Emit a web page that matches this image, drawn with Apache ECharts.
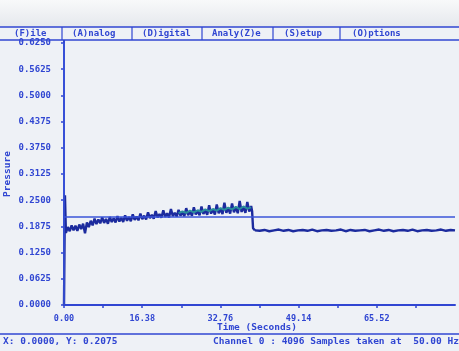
<!DOCTYPE html>
<html>
<head>
<meta charset="utf-8">
<script src="https://cdn.jsdelivr.net/npm/echarts@6/dist/echarts.min.js"></script>
<style>
html,body{margin:0;padding:0;background:#eef1f6;}
#c{width:459px;height:351px;}
</style>
</head>
<body>
<div id="c"></div>
<script>
// ---- data ----
const menuItems = ['(F)ile', '(A)nalog', '(D)igital', 'Analy(Z)e', '(S)etup', '(O)ptions'];
const yTickLabels = ['0.0000','0.0625','0.1250','0.1875','0.2500','0.3125','0.3750','0.4375','0.5000','0.5625','0.6250'];
const xTickLabels = ['0.00','','16.38','','32.76','','49.14','','65.52','',''];
const xTitle = 'Time (Seconds)';
const yTitle = 'Pressure';
const cursorX = 0.0;
const cursorY = 0.2075;
const statusLeft = 'X: 0.0000, Y: 0.2075';
const statusRight = 'Channel 0 : 4096 Samples taken at  50.00 Hz';

// [time s, pressure] rising, noisy part
const riseSegment = [
 [0.0,0.000],[0.2,0.262],[0.4,0.172],[0.8,0.186],[1.2,0.176],[1.6,0.190],[2.0,0.178],[2.4,0.189],
 [2.8,0.177],[3.2,0.192],[3.6,0.181],[4.0,0.194],[4.4,0.171],[4.8,0.197],[5.2,0.186],[5.6,0.201],
 [6.0,0.190],[6.4,0.206],[6.8,0.193],[7.2,0.204],[7.6,0.195],[8.0,0.209],[8.4,0.196],[8.8,0.205],
 [9.2,0.194],[9.6,0.210],[10.0,0.198],[10.4,0.207],[10.8,0.197],[11.2,0.212],[11.6,0.199],[12.0,0.208],
 [12.4,0.198],[12.8,0.214],[13.2,0.201],[13.6,0.210],[14.0,0.200],[14.4,0.216],[14.8,0.203],[15.2,0.211],
 [15.6,0.202],[16.0,0.218],[16.4,0.205],[16.8,0.213],[17.2,0.204],[17.6,0.221],[18.0,0.207],[18.4,0.215],
 [18.8,0.206],[19.2,0.224],[19.6,0.209],[20.0,0.217],[20.4,0.208],[20.8,0.226],[21.2,0.210],[21.6,0.219],
 [22.0,0.209],[22.4,0.229],[22.8,0.212],[23.2,0.220],[23.6,0.211],[24.0,0.227],[24.4,0.213],[24.8,0.222],
 [25.2,0.212],[25.6,0.231],[26.0,0.214],[26.4,0.223],[26.8,0.213],[27.2,0.233],[27.6,0.216],[28.0,0.225],
 [28.4,0.214],[28.8,0.235],[29.2,0.217],[29.6,0.226],[30.0,0.215],[30.4,0.238],[30.8,0.218],[31.2,0.228],
 [31.6,0.216],[32.0,0.240],[32.4,0.219],[32.8,0.229],[33.2,0.217],[33.6,0.244],[34.0,0.220],[34.4,0.231],
 [34.8,0.218],[35.2,0.242],[35.6,0.221],[36.0,0.233],[36.4,0.219],[36.8,0.248],[37.2,0.222],[37.6,0.234],
 [38.0,0.220],[38.4,0.246],[38.8,0.223],[39.2,0.236],[39.4,0.224],[39.6,0.183],[40.0,0.178]
];
// [time s, pressure] flat part after the drop
const plateauSegment = [
 [41,0.177],[42,0.179],[43,0.176],[44,0.178],[45,0.180],[46,0.177],[47,0.179],[48,0.176],[49,0.178],
 [50,0.179],[51,0.177],[52,0.180],[53,0.176],[54,0.178],[55,0.179],[56,0.177],[57,0.178],[58,0.180],
 [59,0.176],[60,0.179],[61,0.177],[62,0.178],[63,0.179],[64,0.176],[65,0.178],[66,0.180],[67,0.177],
 [68,0.179],[69,0.176],[70,0.178],[71,0.179],[72,0.177],[73,0.180],[74,0.176],[75,0.178],[76,0.179],
 [77,0.177],[78,0.178],[79,0.180],[80,0.177],[81,0.179],[81.9,0.178]
];
// teal-coloured core of the trace near the end of the rise
const tealOverlay = [
 [24.0,0.219],[24.8,0.223],[25.6,0.220],[26.4,0.225],[27.2,0.221],[28.0,0.226],[28.8,0.222],[29.6,0.228],
 [30.4,0.224],[31.2,0.229],[32.0,0.225],[32.8,0.231],[33.6,0.227],[34.4,0.232],[35.2,0.228],[36.0,0.234],
 [36.8,0.229],[37.6,0.235],[38.4,0.230],[39.2,0.233]
];

// ---- chart ----
const BLUE = '#3046d2';
const TRACE = '#1c2b9e';
const FONT = 'DejaVu Sans Mono';
const chart = echarts.init(document.getElementById('c'), null, {renderer:'canvas'});

const sepX = [62, 132, 202, 273, 340];
const menuX = [14, 72, 142, 212, 284, 352];
const graphic = [
  {type:'rect', shape:{x:0,y:0,width:459,height:27}, z:-1,
   style:{fill:new echarts.graphic.LinearGradient(0,0,0,1,[{offset:0,color:'#f8f9fa'},{offset:1,color:'#e5e8ed'}])}},
  {type:'line', shape:{x1:0,y1:27,x2:459,y2:27}, style:{stroke:BLUE,lineWidth:1.5}},
  {type:'line', shape:{x1:0,y1:40,x2:459,y2:40}, style:{stroke:BLUE,lineWidth:1.5}},
  {type:'line', shape:{x1:0,y1:334,x2:459,y2:334}, style:{stroke:BLUE,lineWidth:1.5}},
  {type:'line', shape:{x1:64,y1:40,x2:64,y2:44}, style:{stroke:BLUE,lineWidth:2}},
  {type:'text', x:3, y:342, style:{text:statusLeft, fill:BLUE, font:'bold 9.5px '+FONT, verticalAlign:'middle'}},
  {type:'text', x:213, y:342, style:{text:statusRight, fill:BLUE, font:'bold 9.5px '+FONT, verticalAlign:'middle'}},
  {type:'text', x:257, y:328, style:{text:xTitle, fill:BLUE, font:'bold 9.5px '+FONT, align:'center', verticalAlign:'middle'}},
  {type:'text', x:8, y:174, rotation:Math.PI/2, style:{text:yTitle, fill:BLUE, font:'bold 9.5px '+FONT, align:'center', verticalAlign:'middle'}}
];
sepX.forEach(x => graphic.push({type:'line', shape:{x1:x,y1:27,x2:x,y2:40}, style:{stroke:BLUE,lineWidth:1.2}}));
menuItems.forEach((m,i) => graphic.push({type:'text', x:menuX[i], y:33.5,
  style:{text:m, fill:BLUE, font:'bold 9px '+FONT, verticalAlign:'middle'}}));

chart.setOption({
  backgroundColor:'#eef1f6',
  animation:false,
  grid:{left:64, right:4, top:43, bottom:46, containLabel:false, outerBoundsMode:'none'},
  xAxis:{
    type:'value', min:0, max:81.9, interval:8.19,
    axisLine:{lineStyle:{color:BLUE, width:2}},
    axisTick:{show:true, length:3, lineStyle:{color:BLUE, width:1.5}},
    axisLabel:{color:BLUE, fontFamily:FONT, fontWeight:'bold', fontSize:8.5, margin:9,
      showMaxLabel:false, formatter:(v,i)=>xTickLabels[i] || ''},
    splitLine:{show:false}
  },
  yAxis:{
    type:'value', min:0, max:0.625, interval:0.0625,
    axisLine:{show:true, lineStyle:{color:BLUE, width:2}},
    axisTick:{show:true, length:3, lineStyle:{color:BLUE, width:1.5}},
    axisLabel:{color:BLUE, fontFamily:FONT, fontWeight:'bold', fontSize:9, margin:13,
      formatter:(v,i)=>yTickLabels[i]},
    splitLine:{show:false}
  },
  graphic: graphic,
  series:[
    {type:'line', data:riseSegment, showSymbol:false, lineStyle:{color:TRACE, width:2.4}, z:3,
     markLine:{silent:true, symbol:'none', label:{show:false},
       lineStyle:{color:'#3a55d8', width:1.5, type:'solid'},
       data:[{yAxis:cursorY}, {xAxis:cursorX}]}},
    {type:'line', data:[[40.0,0.178]].concat(plateauSegment), showSymbol:false, lineStyle:{color:TRACE, width:2.4}, z:3},
    {type:'line', data:tealOverlay, showSymbol:false, lineStyle:{color:'#2a8e9c', width:2}, z:4}
  ]
});
</script>
</body>
</html>
